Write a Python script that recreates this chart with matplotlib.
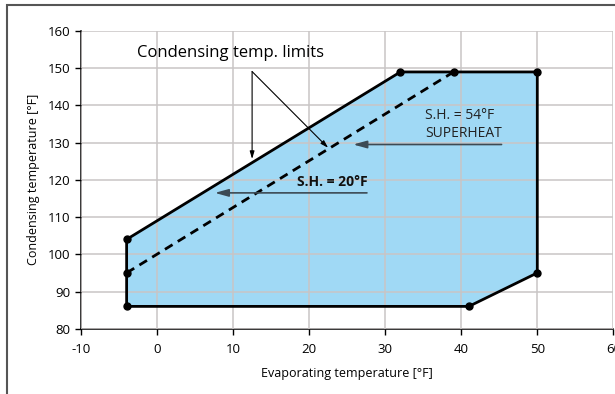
import matplotlib
matplotlib.use("Agg")
import matplotlib.pyplot as plt
from matplotlib.patches import Polygon, Rectangle

plt.rcParams.update({"font.family": ["Open Sans", "DejaVu Sans"], "font.size": 9,
                     "axes.unicode_minus": False})

# operating envelope (evaporating, condensing) in degF
env_x = [-4, -4, 32, 50, 50, 41]
env_y = [86, 104, 149, 149, 95, 86]
# superheat 20F limit line
sh_x = [-4, 39]
sh_y = [95, 149]

FILL = "#a0d9f5"; GRID = "#c9c5c5"; ARR = "#3c4a54"

fig = plt.figure(figsize=(6.15, 3.94), dpi=100)
ax = fig.add_axes([0.1317, 0.1657, 0.8656, 0.7556])

ax.add_patch(Polygon(list(zip(env_x, env_y)), closed=True, fc=FILL, ec="none", zorder=1))
ax.plot(env_x + [env_x[0]], env_y + [env_y[0]], color="black", lw=2, zorder=3,
        solid_joinstyle="miter")
ax.plot(sh_x, sh_y, color="black", lw=2, ls=(0, (3.2, 2.2)), zorder=3)
ax.plot(env_x + sh_x, env_y + sh_y, "o", color="black", ms=5, zorder=4)

ax.set_xlim(-10, 60); ax.set_ylim(80, 160)
ax.set_xticks(range(-10, 61, 10)); ax.set_yticks(range(80, 161, 10))
ax.grid(color=GRID, lw=1.1)
ax.set_axisbelow(False)
for s in ("top", "right"):
    ax.spines[s].set_visible(False)
for s in ("left", "bottom"):
    ax.spines[s].set_linewidth(1.1)
ax.tick_params(length=4.5, width=1, labelsize=9.5, colors="black", pad=3)
ax.tick_params(axis="x", pad=6)
ax.set_xlabel("Evaporating temperature [°F]", fontsize=9, labelpad=8)
ax.set_ylabel("Condensing temperature [°F]", fontsize=9, labelpad=6)

# annotations
ax.text(9.7, 154.2, "Condensing temp. limits", ha="center", va="center", fontsize=12)
ap = dict(arrowstyle="-|>,head_length=0.5,head_width=0.15", color="black", lw=0.8,
          shrinkA=0, shrinkB=0)
ax.annotate("", xy=(12.5, 125.6), xytext=(12.5, 149.1), arrowprops=ap)
ax.annotate("", xy=(22.5, 128.6), xytext=(12.5, 149.1), arrowprops=ap)

ax.text(35.3, 137.3, "S.H. = 54°F", ha="left", va="center", fontsize=10, color="#222222")
ax.text(35.3, 132.4, "SUPERHEAT", ha="left", va="center", fontsize=10, color="#222222")
ap2 = dict(arrowstyle="-|>,head_length=0.9,head_width=0.25", color=ARR, lw=1.2,
           shrinkA=0, shrinkB=0)
ax.annotate("", xy=(25.8, 129.5), xytext=(45.3, 129.5), arrowprops=ap2)
ax.text(23.0, 119.5, "S.H. = 20°F", ha="center", va="center", fontsize=10,
        fontweight="bold", color="#111111")
ax.annotate("", xy=(7.6, 116.5), xytext=(27.6, 116.5), arrowprops=ap2)

# outer frame (cropped on right/bottom)
fig.patches.append(Rectangle((0.0118, -0.2), 2, 1.187, transform=fig.transFigure,
                             fill=False, ec="#555555", lw=1.5))

fig.savefig("out.png", dpi=100)
